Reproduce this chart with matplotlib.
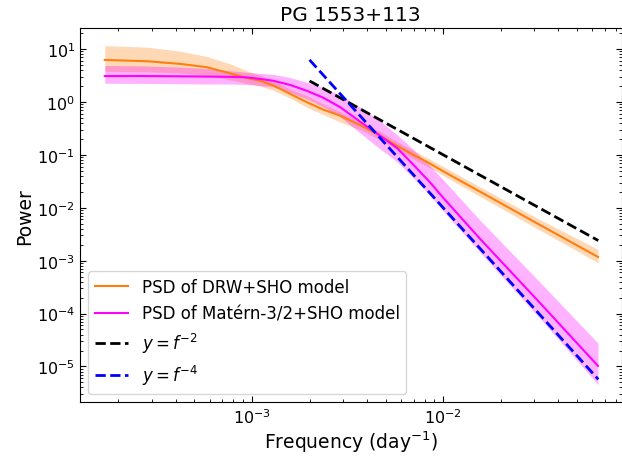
import numpy as np
import matplotlib
matplotlib.use('Agg')
import matplotlib.pyplot as plt

# log10 of frequency (day^-1) where the curves were read
logf = [-3.770, -3.550, -3.375, -3.236, -3.114, -3.026, -2.957, -2.887, -2.799,
        -2.712, -2.627, -2.538, -2.416, -2.329, -2.241, -2.155, -2.066, -2.000,
        -1.805, -1.501, -1.190]

# DRW+SHO model (log10 power) and band edges
drw_log = [0.795, 0.77, 0.72, 0.657, 0.54, 0.455, 0.40, 0.31, 0.15,
           -0.006, -0.145, -0.26, -0.47, -0.64, -0.83, -1.0, -1.17, -1.31,
           -1.70, -2.31, -2.93]
drw_up = [1.066, 1.036, 0.96, 0.86, 0.72, 0.59, 0.50, 0.40, 0.24,
          0.12, -0.04, -0.19, -0.40, -0.56, -0.75, -0.92, -1.09, -1.22,
          -1.61, -2.21, -2.785]
drw_lo = [0.58, 0.57, 0.55, 0.50, 0.42, 0.35, 0.30, 0.22, 0.07,
          -0.10, -0.24, -0.38, -0.55, -0.72, -0.91, -1.08, -1.25, -1.39,
          -1.79, -2.41, -3.04]

# Matern-3/2+SHO model
mat_log = [0.49, 0.49, 0.485, 0.48, 0.475, 0.465, 0.435, 0.40, 0.32,
           0.21, 0.08, -0.10, -0.42, -0.64, -0.87, -1.19, -1.53, -1.81,
           -2.595, -3.77, -4.99]
mat_up = [0.69, 0.68, 0.66, 0.63, 0.59, 0.56, 0.54, 0.52, 0.46,
          0.37, 0.27, 0.13, -0.14, -0.36, -0.62, -0.90, -1.22, -1.47,
          -2.245, -3.38, -4.56]
mat_lo = [0.354, 0.35, 0.345, 0.34, 0.34, 0.33, 0.31, 0.28, 0.18,
          0.057, -0.09, -0.28, -0.64, -0.89, -1.13, -1.44, -1.78, -2.06,
          -2.85, -4.06, -5.34]

# reference power laws, endpoints
ref_f = [2.0e-3, 6.48e-2]
ref_f2 = [2.5, 2.4e-3]
ref_f4 = [6.25, 5.7e-6]

f = 10 ** np.array(logf)
p = lambda a: 10 ** np.array(a)

fig = plt.figure(figsize=(6.22, 4.6), dpi=100)
ax = fig.add_axes([80 / 622, (460 - 403.3) / 460, (621.5 - 80) / 622, (403.3 - 29.3) / 460])

ax.fill_between(f, p(drw_lo), p(drw_up), color='#ff7f0e', alpha=0.3, lw=0)
ax.plot(f, p(drw_log), color='#ff7f0e', lw=1.5, label='PSD of DRW+SHO model')
ax.fill_between(f, p(mat_lo), p(mat_up), color='magenta', alpha=0.3, lw=0)
ax.plot(f, p(mat_log), color='magenta', lw=1.5, label='PSD of Matérn-3/2+SHO model')
ax.plot(ref_f, ref_f2, '--', color='black', lw=2, label='$y=f^{-2}$')
ax.plot(ref_f, ref_f4, '--', color='blue', lw=2, label='$y=f^{-4}$')

ax.set_xscale('log')
ax.set_yscale('log')
ax.set_xlim(1.26e-4, 0.0857)
ax.set_ylim(2.1e-6, 24.7)

ax.tick_params(which='both', direction='in', top=True, right=True, labelsize=11.5)
ax.tick_params(which='major', length=4.5)
ax.tick_params(which='minor', length=2.2)

ax.set_title('PG 1553+113', fontsize=14.5)
ax.set_xlabel('Frequency (day$^{-1}$)', fontsize=13.5, labelpad=2)
ax.set_ylabel('Power', fontsize=13.5, labelpad=2)
ax.legend(loc='lower left', fontsize=12)

fig.savefig('out.png', dpi=100)
